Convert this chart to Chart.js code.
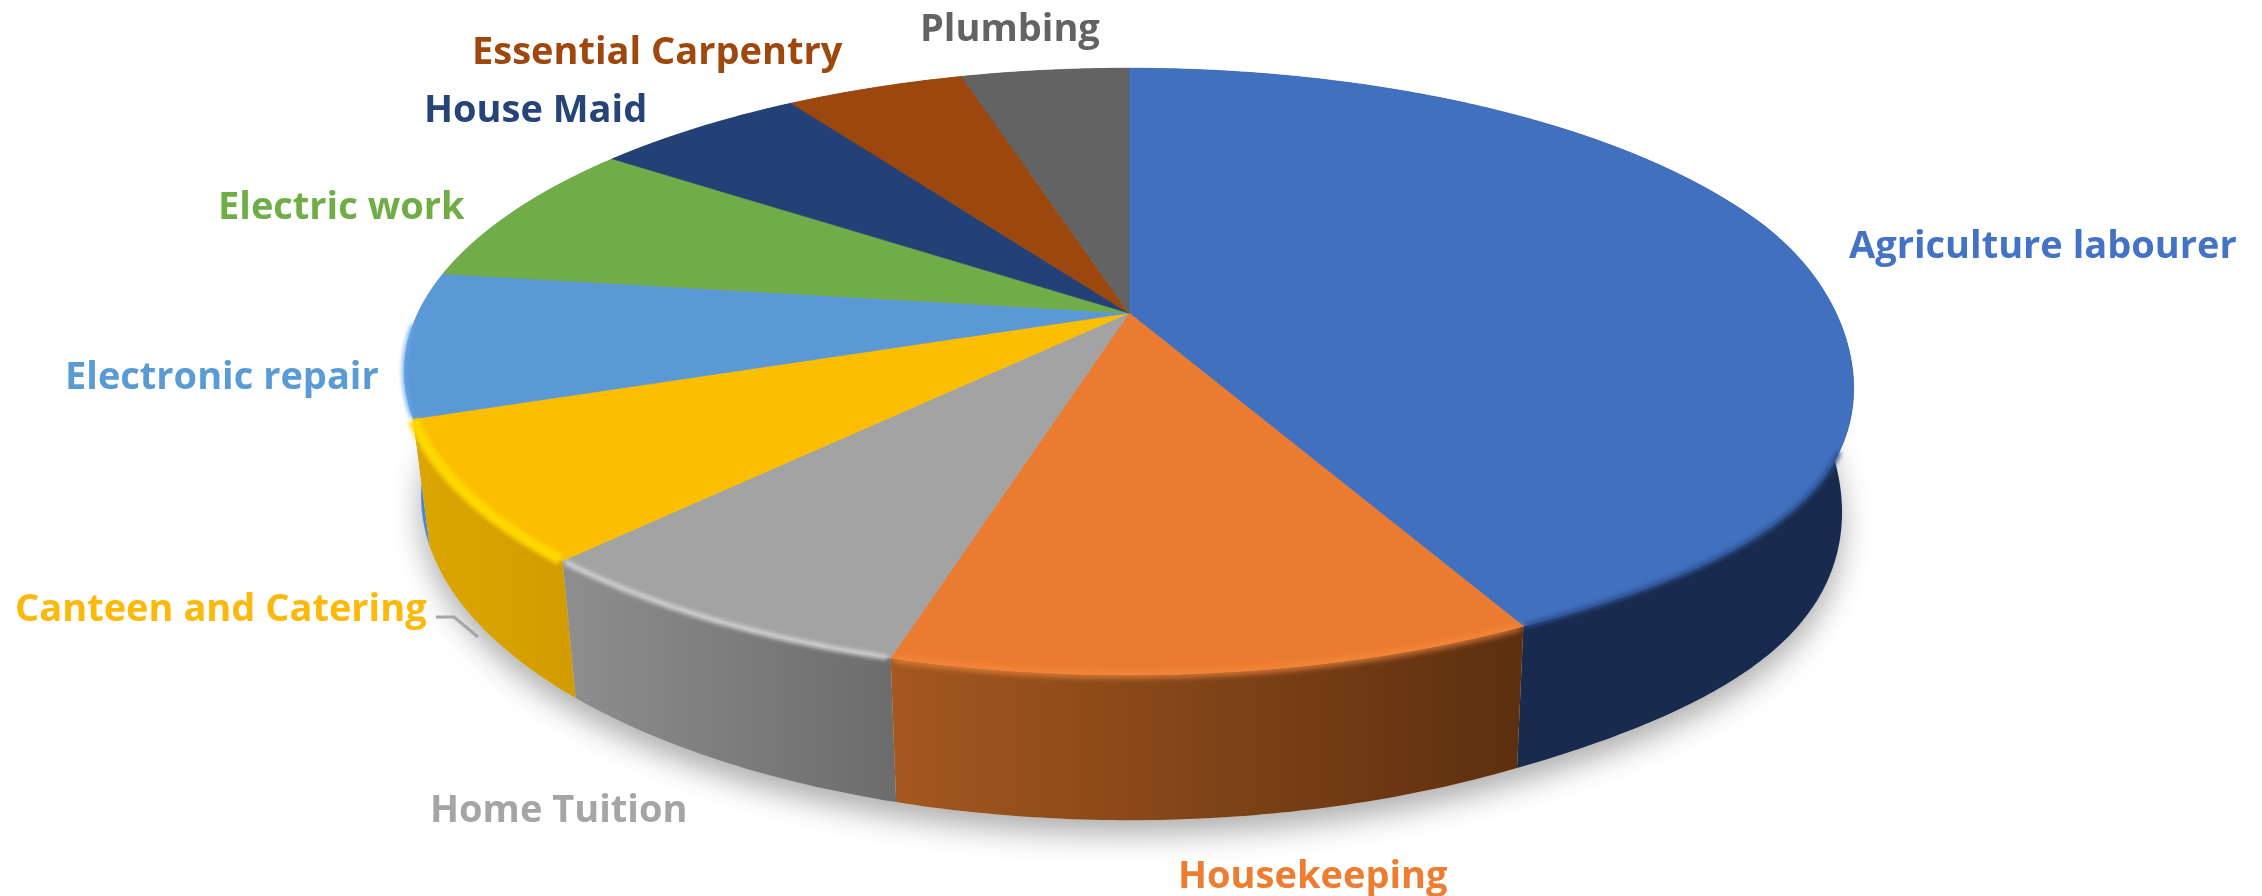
<!DOCTYPE html>
<html>
<head>
<meta charset="utf-8">
<title>Occupations pie</title>
<script src="https://cdn.jsdelivr.net/npm/chart.js@4"></script>
<style>
  html, body { margin: 0; padding: 0; background: #fff; }
  canvas { display: block; filter: blur(0.5px); }
</style>
</head>
<body>
<canvas id="pie" width="2262" height="896"></canvas>
<script>
const categories = ["Agriculture labourer", "Housekeeping", "Home Tuition", "Canteen and Catering",
  "Electronic repair", "Electric work", "House Maid", "Essential Carpentry", "Plumbing"];
const shares = [42.4, 12, 7.6, 7.5, 7.7, 7.8, 5.7, 4.8, 4.5];

const topColors = ["#4170BF", "#EB7B30", "#A3A3A3", "#FCBE00", "#5B98D6", "#70AC47", "#234176", "#9C470D", "#636363"];
const labelColors = ["#4472C4", "#ED7D31", "#A5A5A5", "#FDB90A", "#5B9BD5", "#70AD47", "#264478", "#9E480E", "#636363"];
const wallLeft = ["#182B4E", "#A5581F", "#8E8E8E", "#DCA600", "#4A88CF", "#5A8A38", "#1A3058", "#75350A", "#4A4A4A"];
const wallRight = ["#182B4E", "#5C2F0F", "#6C6C6C", "#D29C00", "#4A88CF", "#5A8A38", "#1A3058", "#75350A", "#4A4A4A"];
const rimGlow = ["#2C5090", "#F68B40", "#D4D4D4", "#FFD800", "#64A6E8", null, null, null, null];
const labelX = [1849, 1178, 430, 15, 65, 218, 424, 472, 920];
const labelY = [247, 877, 811, 610, 378, 208, 111, 53, 30];

// perspective of the disc
const cx = 1129, cy = 313, A = 711, B = 292, K = 0.193;
const wallXLeft = 0.977, wallXRight = 0.984, wallY = 1.07, wallDrop = 120;
const glowFrom = 112 * Math.PI / 180, glowTo = 268 * Math.PI / 180;
// the right shoulder of the disc sags a little in the original
const sagFrom = 70 * Math.PI / 180, sagTo = 155 * Math.PI / 180, sag = 20;

function sagAt(a) {
  if (a <= sagFrom || a >= sagTo) return 0;
  return sag * Math.sin(Math.PI * (a - sagFrom) / (sagTo - sagFrom)) ** 2;
}
function flatPoint(a) {
  const u = Math.sin(a), v = Math.cos(a), w = 1 + K * v;
  return [cx + A * u / w, cy - B * v / w];
}
function topPoint(a) {
  const p = flatPoint(a);
  return [p[0], p[1] + sagAt(a)];
}
function basePoint(a) {
  const p = flatPoint(a);
  const sx = p[0] > cx ? wallXRight : wallXLeft;
  return [cx + (p[0] - cx) * sx, cy + (p[1] - cy) * wallY + wallDrop + sagAt(a)];
}
function angles(arc) {
  return [arc.startAngle + Math.PI / 2, arc.endAngle + Math.PI / 2];
}
function rimPoints(fn, a0, a1) {
  const n = Math.max(2, Math.ceil((a1 - a0) * 90)), pts = [];
  for (let i = 0; i <= n; i++) pts.push(fn(a0 + (a1 - a0) * i / n));
  return pts;
}
function trace(ctx, pts) {
  pts.forEach((p, i) => i ? ctx.lineTo(p[0], p[1]) : ctx.moveTo(p[0], p[1]));
}

const disc3d = {
  id: "disc3d",
  beforeDatasetsDraw(chart) {
    const ctx = chart.ctx;
    const arcs = chart.getDatasetMeta(0).data;

    // soft floor shadow
    ctx.save();
    ctx.shadowColor = "rgba(0,0,0,0.32)";
    ctx.shadowBlur = 30;
    ctx.shadowOffsetY = 14;
    ctx.fillStyle = "#ddd";
    ctx.beginPath();
    trace(ctx, rimPoints(basePoint, 0, Math.PI * 2));
    ctx.closePath();
    ctx.fill();
    ctx.restore();

    // side walls, back ones first
    const order = arcs.map((arc, i) => i).sort((p, q) => {
      const [a0, a1] = angles(arcs[p]), [b0, b1] = angles(arcs[q]);
      return basePoint((a0 + a1) / 2)[1] - basePoint((b0 + b1) / 2)[1];
    });
    order.forEach(i => {
      const [a0, a1] = angles(arcs[i]);
      const upper = rimPoints(topPoint, a0, a1);
      const lower = rimPoints(basePoint, a0, a1).reverse();
      const xs = upper.concat(lower).map(p => p[0]);
      const g = ctx.createLinearGradient(Math.min(...xs), 0, Math.max(...xs), 0);
      g.addColorStop(0, wallLeft[i]);
      g.addColorStop(1, wallRight[i]);
      ctx.fillStyle = g;
      ctx.beginPath();
      trace(ctx, upper.concat(lower));
      ctx.closePath();
      ctx.fill();
    });

    // top faces
    arcs.forEach((arc, i) => {
      const [a0, a1] = angles(arc);
      ctx.fillStyle = topColors[i];
      ctx.strokeStyle = topColors[i];
      ctx.lineWidth = 0.7;
      ctx.beginPath();
      trace(ctx, [[cx, cy]].concat(rimPoints(topPoint, a0, a1)));
      ctx.closePath();
      ctx.fill();
      ctx.stroke();
    });

    // bevel along the front rim
    arcs.forEach((arc, i) => {
      if (!rimGlow[i]) return;
      const [a0, a1] = angles(arc);
      const from = Math.max(a0, glowFrom), to = Math.min(a1, glowTo);
      ctx.save();
      ctx.filter = i === 1 ? "blur(3px)" : "blur(2px)";
      ctx.strokeStyle = rimGlow[i];
      ctx.lineWidth = i === 3 ? 11 : i === 4 ? 4 : 5;
      ctx.beginPath();
      trace(ctx, rimPoints(topPoint, from + 0.004, to - 0.004));
      ctx.stroke();
      ctx.restore();
    });
    return false;
  },
  afterDraw(chart) {
    const ctx = chart.ctx;
    ctx.save();
    ctx.font = "bold 38px 'Open Sans'";
    ctx.textBaseline = "middle";
    categories.forEach((name, i) => {
      ctx.fillStyle = labelColors[i];
      ctx.fillText(name, labelX[i], labelY[i]);
    });
    // leader for the canteen label
    ctx.strokeStyle = "#A6A6A6";
    ctx.lineWidth = 3;
    ctx.beginPath();
    ctx.moveTo(436, 617);
    ctx.lineTo(454, 617);
    ctx.lineTo(478, 637);
    ctx.stroke();
    ctx.restore();
  }
};

new Chart(document.getElementById("pie"), {
  type: "pie",
  data: {
    labels: categories,
    datasets: [{ data: shares, backgroundColor: topColors, borderWidth: 0 }]
  },
  options: {
    responsive: false,
    animation: false,
    devicePixelRatio: 1,
    plugins: { legend: { display: false }, tooltip: { enabled: false } }
  },
  plugins: [disc3d]
});
</script>
</body>
</html>
